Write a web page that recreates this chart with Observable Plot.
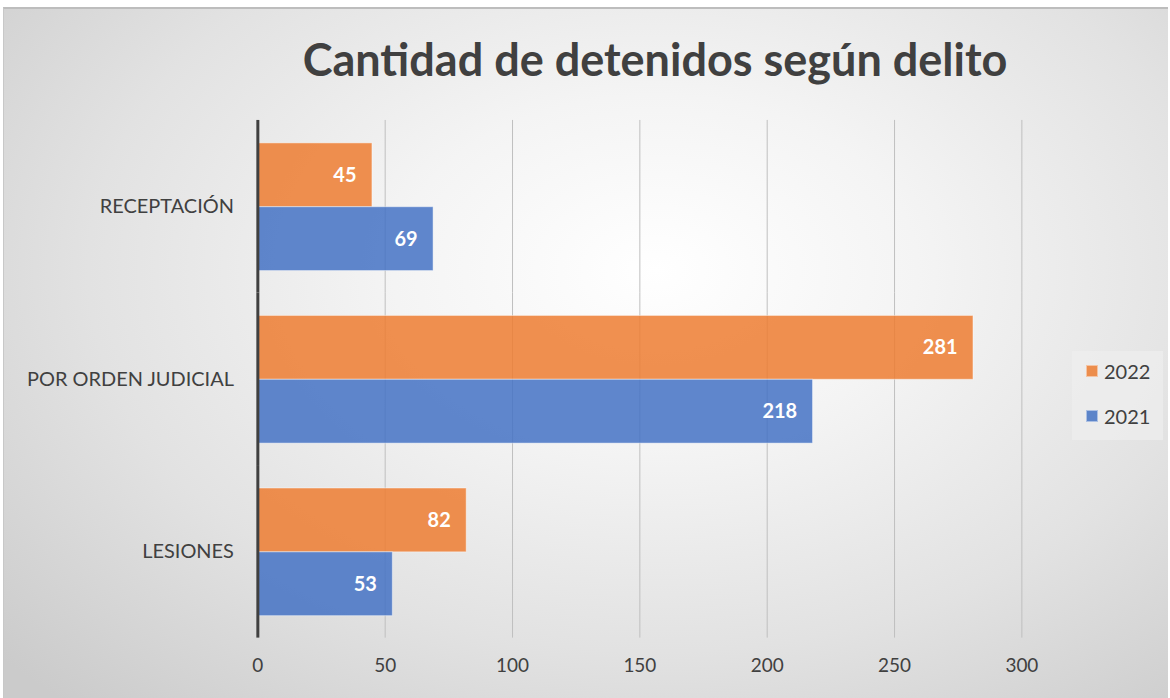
<!DOCTYPE html>
<html>
<head>
<meta charset="utf-8">
<script src="https://cdn.jsdelivr.net/npm/d3@7"></script>
<script src="https://cdn.jsdelivr.net/npm/@observablehq/plot@0.6"></script>
<style>
  html, body { margin: 0; padding: 0; background: #fff; }
  #chart {
    position: absolute; left: 3px; top: 7px; width: 1165px; height: 691px;
    box-sizing: border-box; border-top: 2px solid #bdbdbd; border-left: 1px solid #c8c8c8;
    background: radial-gradient(ellipse 75% 85% at 56% 38%, #ffffff 0%, #f4f4f4 30%, #e2e2e2 65%, #cbcbcb 100%);
    overflow: hidden; font-family: Lato, "Noto Sans", sans-serif;
  }
  #title {
    position: absolute; left: 0; width: 1302px; top: 25px; text-align: center;
    font-size: 45px; font-weight: bold; color: #404040; line-height: 50px;
  }
  #plot { position: absolute; left: -3px; top: 90px; }
  #plot [aria-label^="fy-axis"] text { font-size: 20px; }
  #plot [aria-label^="x-axis"] text { font-size: 19px; }
  #legend {
    position: absolute; left: 1068px; top: 342px; width: 91px; height: 89px;
    background: rgba(238,238,238,0.75); font-size: 20px; color: #404040;
  }
  .item { position: absolute; left: 14px; display: flex; align-items: center; }
  .sw { width: 12px; height: 12px; margin-right: 6px; box-sizing: border-box; }
</style>
</head>
<body>
<div id="chart">
  <div id="title">Cantidad de detenidos según delito</div>
  <div id="plot"></div>
  <div id="legend"></div>
</div>
<script>
const categories = ["RECEPTACIÓN", "POR ORDEN JUDICIAL", "LESIONES"];
const years = ["2022", "2021"];
const values2022 = [45, 281, 82];
const values2021 = [69, 218, 53];
const xTicks = [0, 50, 100, 150, 200, 250, 300];
const colors = {"2022": "#ED7D31", "2021": "#4472C4"};

const rows = [];
categories.forEach((c, i) => {
  rows.push({category: c, year: "2022", value: values2022[i]});
  rows.push({category: c, year: "2021", value: values2021[i]});
});

const chart = Plot.plot({
  width: 1170,
  height: 590,
  marginTop: 20,
  marginBottom: 50,
  marginLeft: 257,
  marginRight: 147,
  style: {fontSize: "18px", fontFamily: "Lato, 'Noto Sans', sans-serif", color: "#404040", background: "transparent", overflow: "visible"},
  x: {domain: [0, 300], ticks: xTicks, label: null, tickSize: 0, tickPadding: 20},
  y: {domain: years, axis: null, paddingInner: 0, paddingOuter: 0.333},
  fy: {domain: categories, label: null, tickSize: 0, tickPadding: 24, paddingInner: 0, paddingOuter: 0},
  color: {domain: years, range: years.map(y => colors[y])},
  marks: [
    Plot.ruleX(xTicks.filter(d => d > 0), {stroke: "#bfbfbf", strokeWidth: 1}),
    Plot.barX(rows, {fy: "category", y: "year", x: "value", fill: "year", fillOpacity: 0.85, stroke: "#ffffff", strokeOpacity: 0.45, strokeWidth: 1}),
    Plot.text(rows, {fy: "category", y: "year", x: "value", text: d => String(d.value), textAnchor: "end", dx: -16, fill: "white", fontWeight: "bold", fontSize: 20}),
    Plot.ruleX([0], {stroke: "#404040", strokeWidth: 3})
  ]
});
document.getElementById("plot").appendChild(chart);

const legend = document.getElementById("legend");
years.forEach((y, i) => {
  const item = document.createElement("div");
  item.className = "item";
  item.style.top = (8 + i * 45) + "px";
  item.innerHTML = `<div class="sw" style="background:${colors[y]};opacity:0.85;border:1px solid rgba(255,255,255,0.5)"></div><span>${y}</span>`;
  legend.appendChild(item);
});
</script>
</body>
</html>
